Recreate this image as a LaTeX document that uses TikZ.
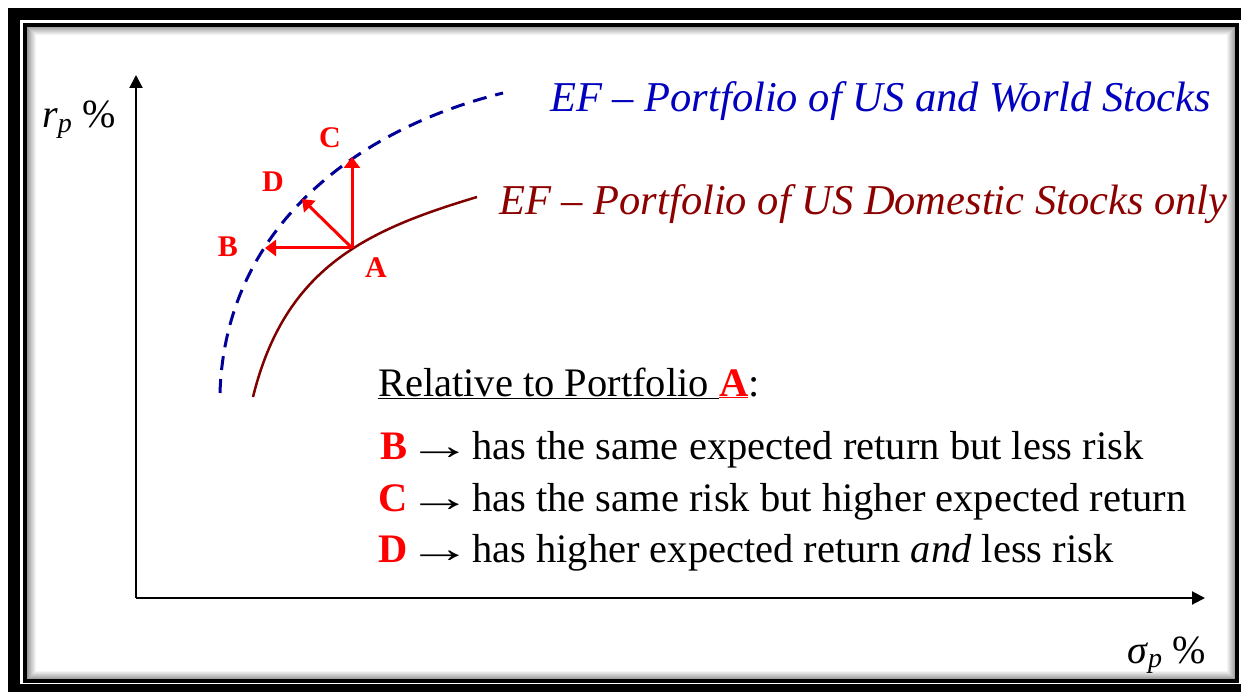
\documentclass[tikz,border=0pt]{standalone}
\usepackage{fontspec}
\setmainfont{Liberation Serif}
\usetikzlibrary{arrows.meta}
\definecolor{worldblue}{RGB}{0,0,150}
\definecolor{worldtext}{RGB}{0,0,190}
\definecolor{domred}{RGB}{128,0,0}
\definecolor{domtext}{RGB}{140,0,0}
\definecolor{ptred}{RGB}{255,0,0}
\tikzset{
  axis/.style = {line width = 2pt, -{Triangle[length = 13pt, width = 13pt]}},
  move/.style = {ptred, line width = 3pt, -{Triangle[length = 11pt, width = 16pt]}},
  ptlabel/.style = {ptred, inner sep = 0pt, font = \fontsize{30}{30}\selectfont\bfseries},
  eflabel/.style = {anchor = base west, inner sep = 0pt, font = \fontsize{42.5}{43}\selectfont\itshape},
  listline/.style = {anchor = base west, inner sep = 0pt, font = \fontsize{40.5}{41}\selectfont},
  axlabel/.style = {anchor = base west, inner sep = 0pt, font = \fontsize{40}{40}\selectfont}
}
\newcommand{\pt}[1]{\textcolor{ptred}{\textbf{#1}}}
\newcommand{\lto}{\kern-0.25em\scalebox{1.6}[1]{→}\kern-0.25em}

\begin{document}
\begin{tikzpicture}[x = 1pt, y = -1pt]
\useasboundingbox (0,0) rectangle (1241,692);
\begin{scope}
\clip (27,27) rectangle (1235,679);
% axes
\coordinate (origin) at (136,598);
\coordinate (ytip) at (136,75);
\coordinate (xtip) at (1205,598);
\draw [axis] (origin) -- (ytip);
\draw [axis] (origin) -- (xtip);
\node [axlabel] (rlabel) at (42,128) {\textit{r}\textsubscript{\textit{p}} \%};
\node [axlabel] (slabel) at (1127,663) {\textit{σ}\textsubscript{\textit{p}} \%};
% frontiers
\draw [worldblue, line width = 3pt, dash pattern = on 14pt off 9pt]
  (220,393) .. controls (225,230) and (353,130) .. (503,93);
\draw [domred, line width = 2.5pt]
  (253,397) .. controls (285,267) and (367,230) .. (477,197);
\node [eflabel, worldtext] (worldef) at (550,112) {EF – Portfolio of US and World Stocks};
\node [eflabel, domtext] (domef) at (499,215) {EF – Portfolio of US Domestic Stocks only};
% portfolios
\coordinate (A) at (352,248);
\coordinate (B) at (265,248);
\coordinate (C) at (352,157);
\coordinate (D) at (302,199);
\draw [move] (A) -- (B);
\draw [move] (A) -- (C);
\draw [move] (A) -- (D);
\node [ptlabel] (alabel) at (376,268) {A};
\node [ptlabel] (blabel) at (228,247) {B};
\node [ptlabel] (clabel) at (330,138) {C};
\node [ptlabel] (dlabel) at (273,182) {D};
% comparison
\node [listline] (head) at (378,396) {\underline{Relative to Portfolio }\textcolor{ptred}{\underline{\textbf{A}}}:};
\node [listline] (lineb) at (380,459) {\pt{B} \lto{} has the same expected return but less risk};
\node [listline] (linec) at (378,511) {\pt{C} \lto{} has the same risk but higher expected return};
\node [listline] (lined) at (378,562) {\pt{D} \lto{} has higher expected return \textit{and} less risk};
\end{scope}
% frame with inner shadow
\foreach \i in {1,...,10}
  \draw [black, opacity = {0.045*(11-\i)}, line width = 1pt] (25+\i,25+\i) rectangle (1237-\i,681-\i);
\draw [line width = 4pt] (25,25) rectangle (1237,681);
\draw [line width = 12pt] (14,14) rectangle (1250,690);
\end{tikzpicture}
\end{document}
